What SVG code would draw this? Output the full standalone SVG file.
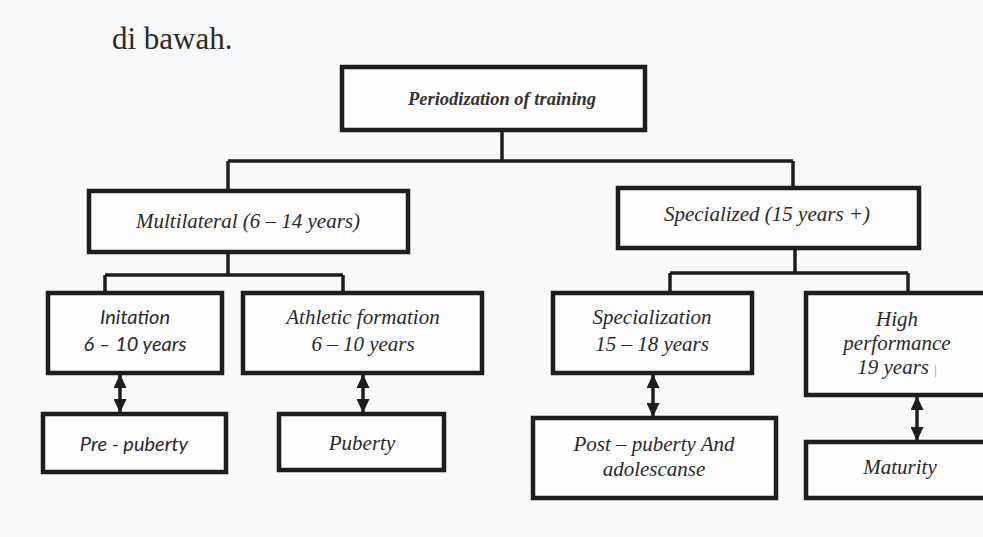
<svg xmlns="http://www.w3.org/2000/svg" width="983" height="537" viewBox="0 0 983 537">
<style>
.box{fill:#fdfdfe;stroke:#1e1e1e;stroke-width:4.5}
.ln{fill:none;stroke:#1e1e1e;stroke-width:3.5}
.ar{fill:none;stroke:#1e1e1e;stroke-width:3.5}
.t{font-family:'Liberation Serif','Times New Roman',serif;font-style:italic;font-size:21px;fill:#2a2a2a;text-anchor:middle}
.c{font-family:Lato,'Noto Sans',sans-serif;font-style:italic;font-size:20px;fill:#2a2a2a;text-anchor:middle}
.p{font-family:'Liberation Serif','Times New Roman',serif;font-style:italic;font-weight:bold;font-size:18.5px;fill:#333;text-anchor:middle}
.d{font-family:'Liberation Serif','Times New Roman',serif;font-size:31px;fill:#2a2a2a}
</style>
<defs>
<marker id="ah" viewBox="0 0 14 13" refX="13" refY="6.5" markerWidth="14" markerHeight="13" markerUnits="userSpaceOnUse" orient="auto-start-reverse">
<path d="M0,0 L14,6.5 L0,13 Z" fill="#1e1e1e"/>
</marker>
</defs>
<rect width="983" height="537" fill="#f8f9fb"/>
<text class="d" x="112" y="49">di bawah.</text>
<g id="connectors">
<path class="ln" d="M502,130 V161 M228,161 H793 M228,161 V191 M793,161 V188"/>
<path class="ln" d="M228,252 V275 M105,275 H343 M105,275 V293 M343,275 V293"/>
<path class="ln" d="M795,248 V273 M670,273 H908 M670,273 V293 M908,273 V293"/>
<line class="ar" x1="120" y1="375" x2="120" y2="412" marker-start="url(#ah)" marker-end="url(#ah)"/>
<line class="ar" x1="363" y1="375" x2="363" y2="412" marker-start="url(#ah)" marker-end="url(#ah)"/>
<line class="ar" x1="653" y1="375" x2="653" y2="416" marker-start="url(#ah)" marker-end="url(#ah)"/>
<line class="ar" x1="917" y1="397" x2="917" y2="440" marker-start="url(#ah)" marker-end="url(#ah)"/>
</g>
<g id="periodization"><rect class="box" x="342" y="67" width="303" height="63"/><text class="p" x="502" y="105">Periodization of training</text></g>
<g id="multilateral"><rect class="box" x="89" y="191" width="319" height="61"/><text class="t" x="248" y="228">Multilateral (6 – 14 years)</text></g>
<g id="specialized"><rect class="box" x="618" y="188" width="301" height="60"/><text class="t" x="767" y="221">Specialized (15 years +)</text></g>
<g id="initation"><rect class="box" x="48" y="293" width="174" height="80"/><text class="c" x="135" y="324">Initation</text><text class="c" x="135" y="351">6 – 10 years</text></g>
<g id="athletic"><rect class="box" x="243" y="293" width="239" height="80"/><text class="t" x="363" y="324">Athletic formation</text><text class="t" x="363" y="351">6 – 10 years</text></g>
<g id="specialization"><rect class="box" x="553" y="293" width="199" height="80"/><text class="t" x="652" y="324">Specialization</text><text class="t" x="652" y="351">15 – 18 years</text></g>
<g id="high"><rect class="box" x="806" y="293" width="190" height="102"/><text class="t" x="897" y="326">High</text><text class="t" x="897" y="350">performance</text><text class="t" x="897" y="374">19 years <tspan font-size="12" fill="#888" font-style="normal">|</tspan></text></g>
<g id="prepuberty"><rect class="box" x="43" y="414" width="183" height="58"/><text class="c" x="134" y="451">Pre - puberty</text></g>
<g id="puberty"><rect class="box" x="279" y="414" width="165" height="56"/><text class="t" x="362" y="450">Puberty</text></g>
<g id="postpuberty"><rect class="box" x="533" y="418" width="243" height="80"/><text class="t" x="654" y="451">Post – puberty And</text><text class="t" x="654" y="476">adolescanse</text></g>
<g id="maturity"><rect class="box" x="806" y="442" width="190" height="56"/><text class="t" x="900" y="474">Maturity</text></g>
</svg>
